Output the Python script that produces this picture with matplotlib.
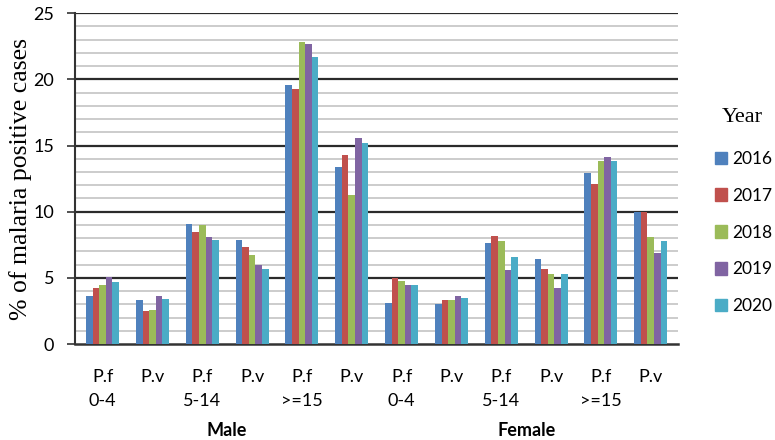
import numpy as np
import matplotlib.pyplot as plt
from matplotlib.patches import Patch

# % of malaria positive cases by sex, age group and species
categories = ['P.f\n0-4', 'P.v\n ', 'P.f\n5-14', 'P.v\n ', 'P.f\n>=15', 'P.v\n ',
              'P.f\n0-4', 'P.v\n ', 'P.f\n5-14', 'P.v\n ', 'P.f\n>=15', 'P.v\n ']
years = ['2016', '2017', '2018', '2019', '2020']
y2016 = [3.6, 3.3, 9.1, 7.9, 19.6, 13.4, 3.1, 3.0, 7.6, 6.4, 12.9, 10.0]
y2017 = [4.2, 2.5, 8.5, 7.3, 19.3, 14.3, 5.0, 3.3, 8.2, 5.7, 12.1, 10.0]
y2018 = [4.5, 2.6, 9.0, 6.7, 22.8, 11.3, 4.8, 3.3, 7.8, 5.3, 13.8, 8.1]
y2019 = [5.1, 3.6, 8.1, 6.0, 22.7, 15.6, 4.5, 3.6, 5.6, 4.2, 14.1, 6.9]
y2020 = [4.7, 3.4, 7.9, 5.7, 21.7, 15.2, 4.5, 3.5, 6.6, 5.3, 13.8, 7.8]
sexes = ['Male', 'Female']

series = [y2016, y2017, y2018, y2019, y2020]
colors = ['#4F81BD', '#C0504D', '#9BBB59', '#8064A2', '#4BACC6']

sans = ['Lato', 'DejaVu Sans']
serif = ['Liberation Serif', 'DejaVu Serif']

fig = plt.figure(figsize=(7.75, 4.4), dpi=100)
ax = fig.add_axes([0.097, 0.218, 0.778, 0.752])

x = np.arange(len(categories))
w = 0.132
for i, (vals, c) in enumerate(zip(series, colors)):
    ax.bar(x + (i - 2) * w, vals, width=w, color=c, zorder=3, label=years[i])

# light minor grid every unit, dark major grid every 5
for v in range(1, 25):
    if v % 5:
        ax.axhline(v, color='#cccccc', lw=1.4, zorder=1)
for v in range(5, 26, 5):
    ax.axhline(v, color='#2b2b2b', lw=1.6, zorder=2)

ax.set_xlim(-0.55, len(categories) - 0.45)
ax.set_ylim(0, 25)
ax.set_yticks(range(0, 26, 5))
ax.set_xticks(x)
ax.set_xticklabels(categories, fontsize=13, family=sans, linespacing=1.6)
ax.tick_params(axis='x', length=0, pad=18)
ax.tick_params(axis='y', length=6, width=1.2, pad=9, labelsize=13, color='#333333')
for lab in ax.get_yticklabels():
    lab.set_family(sans)

for s in ['top', 'right']:
    ax.spines[s].set_visible(False)
ax.spines['left'].set_color('#333333')
ax.spines['left'].set_linewidth(1.5)
ax.spines['bottom'].set_color('#333333')
ax.spines['bottom'].set_linewidth(1.8)

ax.set_ylabel('% of malaria positive cases', fontsize=18.5, family=serif)
ax.yaxis.set_label_coords(-0.09, 0.5)
ax.yaxis.label.set_va('center')

# sex labels under each half of the axis
for k, sex in enumerate(sexes):
    ax.text(2.5 + 6 * k, -0.26, sex, transform=ax.get_xaxis_transform(),
            ha='center', va='center', fontsize=13, fontweight='bold', family=sans)

handles = [Patch(color=c, label=y) for c, y in zip(colors, years)]
fig.legend(handles=handles, loc='upper left', bbox_to_anchor=(0.922, 0.657),
           frameon=False, handlelength=0.72, handleheight=0.72,
           handletextpad=0.3, labelspacing=1.2, borderaxespad=0, borderpad=0,
           prop={'family': sans, 'size': 12.5})
fig.text(0.958, 0.733, 'Year', ha='center', va='center', fontsize=16, family=serif)

fig.savefig('out.png', dpi=100)
